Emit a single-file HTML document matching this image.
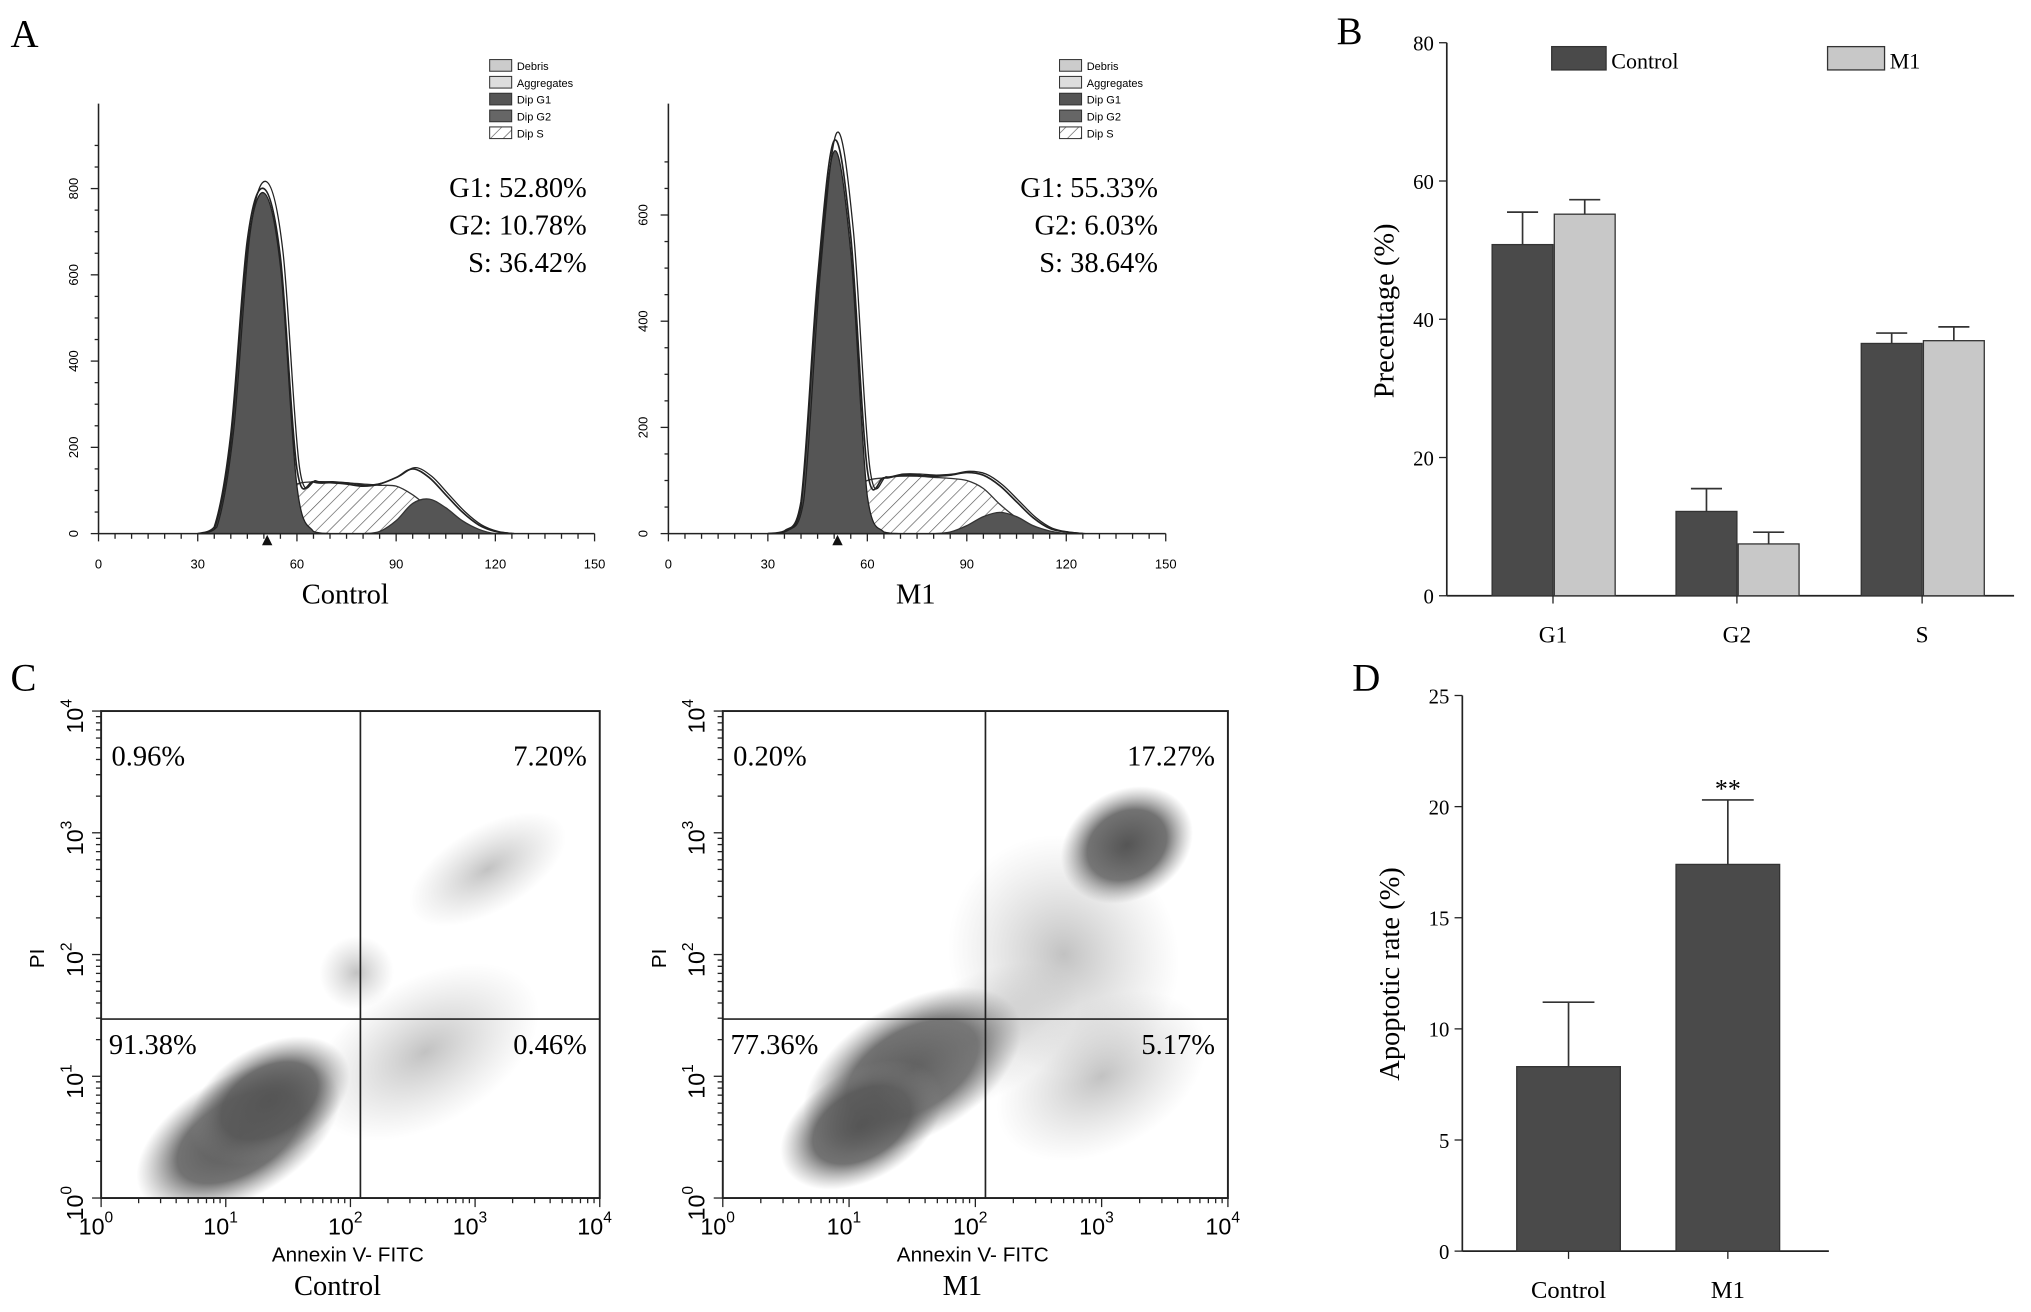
<!DOCTYPE html>
<html><head><meta charset="utf-8">
<style>
html,body{margin:0;padding:0;background:#fff;}
svg{display:block;}
.serif{font-family:"Liberation Serif",serif;}
.sans{font-family:"Liberation Sans",sans-serif;}
</style></head>
<body>
<svg id="fig" width="2031" height="1312" viewBox="0 0 1568 1013" xmlns="http://www.w3.org/2000/svg">
<defs>
<pattern id="hatch" width="7" height="7" patternUnits="userSpaceOnUse" patternTransform="rotate(45)">
<rect width="7" height="7" fill="#fff"/><line x1="0" y1="0" x2="0" y2="7" stroke="#555" stroke-width="1"/></pattern>
<radialGradient id="cloud"><stop offset="0" stop-color="#555" stop-opacity="1"/><stop offset="0.6" stop-color="#5a5a5a" stop-opacity="0.85"/><stop offset="1" stop-color="#888" stop-opacity="0"/></radialGradient>
<radialGradient id="sparse"><stop offset="0" stop-color="#777" stop-opacity="0.45"/><stop offset="1" stop-color="#999" stop-opacity="0"/></radialGradient>
</defs>
<text class="serif" x="8" y="36" font-size="30">A</text>
<text class="serif" x="1032" y="34" font-size="30">B</text>
<text class="serif" x="8" y="533" font-size="30">C</text>
<text class="serif" x="1044" y="533" font-size="30">D</text>
<g id="gA"></g><g id="gB"></g><g id="gC"></g><g id="gD"></g>
</svg>
<script>
const NS='http://www.w3.org/2000/svg';
function mk(parent,tag,attrs,text){const e=document.createElementNS(NS,tag);for(const k in attrs)e.setAttribute(k,attrs[k]);if(text!==undefined)e.textContent=text;parent.appendChild(e);return e;}

// ---------- Panel A data ----------
const histX=[30,35,40,45,50,55,60,65,70,75,80,85,90,95,100,105,110,115,120,125];
const ctrlTotal=[0,15,230,680,800,640,150,120,118,115,110,115,130,150,130,90,50,20,5,0];
const ctrlG1=[0,10,210,660,790,620,110,5,0,0,0,0,0,0,0,0,0,0,0,0];
const ctrlS=[0,0,0,20,50,90,115,120,120,118,115,112,110,90,60,35,15,5,0,0];
const ctrlG2=[0,0,0,0,0,0,0,0,0,0,0,5,30,70,80,60,30,10,0,0];
const m1Total=[0,5,60,480,740,560,120,105,110,110,108,110,115,110,90,60,30,10,3,0];
const m1G1=[0,3,50,460,720,530,70,3,0,0,0,0,0,0,0,0,0,0,0,0];
const m1S=[0,0,0,15,40,80,100,105,108,108,106,104,100,85,55,30,12,4,0,0];
const m1G2=[0,0,0,0,0,0,0,0,0,0,0,3,15,32,40,32,15,5,0,0];
const histXTicks=[0,30,60,90,120,150];
const ctrlYTicks=[0,200,400,600,800];
const m1YTicks=[0,200,400,600];
const legendItems=['Debris','Aggregates','Dip G1','Dip G2','Dip S'];

function smooth(p){let d='M'+p[0][0]+','+p[0][1];
  for(let i=0;i<p.length-1;i++){const a=p[Math.max(0,i-1)],b=p[i],c=p[i+1],e=p[Math.min(p.length-1,i+2)];
    const c1=[b[0]+(c[0]-a[0])/6,b[1]+(c[1]-a[1])/6],c2=[c[0]-(e[0]-b[0])/6,c[1]-(e[1]-b[1])/6];
    d+=` C${c1[0]},${Math.min(c1[1],412)} ${c2[0]},${Math.min(c2[1],412)} ${c[0]},${c[1]}`;}
  return d;}
function histPanel(g,x0,x1,yPer,yTicks,tot,g1,s,g2,stats,title,lx,nm){
  const y0=412;
  const X=v=>x0+(x1-x0)*v/150, Y=v=>y0-v*yPer;
  const P=(a,dx,k)=>a.map((v,i)=>[X(histX[i])+(dx||0),Y(v*(k||1))]);
  const area=a=>smooth(P(a))+' Z';
  let e=mk(g,'path',{d:area(s),fill:'url(#hatch)',stroke:'#333','stroke-width':1});
  
  e=mk(g,'path',{d:area(g2),fill:'#555',stroke:'#333','stroke-width':1});
  
  e=mk(g,'path',{d:area(g1),fill:'#555',stroke:'#222','stroke-width':1});
  
  e=mk(g,'path',{d:smooth(P(tot)),fill:'none',stroke:'#222','stroke-width':1.3});
  
  e=mk(g,'path',{d:smooth(P(tot,2,1.02)),fill:'none',stroke:'#222','stroke-width':1});
  
  e=mk(g,'line',{x1:x0,y1:80,x2:x0,y2:y0,stroke:'#222','stroke-width':1.2});
  
  e=mk(g,'line',{x1:x0,y1:y0,x2:x1,y2:y0,stroke:'#222','stroke-width':1.2});
  
  for(let v=0;v<=150;v+=5){mk(g,'line',{x1:X(v),y1:y0,x2:X(v),y2:y0+(v%30==0?6:4),stroke:'#222','stroke-width':1});}
  histXTicks.forEach(v=>{const t=mk(g,'text',{x:X(v),y:y0+27,'font-size':10,'text-anchor':'middle',class:'sans'},String(v));
    });
  for(let v=0;v<=yTicks[yTicks.length-1]+100;v+=50){if(Y(v)<82)break;mk(g,'line',{x1:x0-(v%200==0?6:3),y1:Y(v),x2:x0,y2:Y(v),stroke:'#222','stroke-width':1});}
  yTicks.forEach(v=>{const t=mk(g,'text',{x:x0-16,y:Y(v),'font-size':10,'text-anchor':'middle',class:'sans',transform:`rotate(-90 ${x0-16} ${Y(v)})`},String(v));
    });
  mk(g,'polygon',{points:`${X(51)-4},${y0+9} ${X(51)+4},${y0+9} ${X(51)},${y0+1}`,fill:'#111'});
  stats.forEach((s,i)=>{const t=mk(g,'text',{x:x1-6,y:152+i*29,'font-size':22,'text-anchor':'end',class:'serif'},s);
    });
  let t=mk(g,'text',{x:(x0+x1)/2-1,y:466,'font-size':22,'text-anchor':'middle',class:'serif'},title);
  
  const fills=['#ccc','#ddd','#555','#666','url(#hatch)'];
  legendItems.forEach((s,i)=>{const yy=46+i*13;
    mk(g,'rect',{x:lx,y:yy,width:17,height:9,fill:fills[i],stroke:'#333','stroke-width':0.8});
    const t=mk(g,'text',{x:lx+21,y:yy+8,'font-size':8.5,class:'sans'},s);
    });
}
const gA=document.getElementById('gA');
histPanel(gA,76,459,0.333,ctrlYTicks,ctrlTotal,ctrlG1,ctrlS,ctrlG2,['G1: 52.80%','G2: 10.78%','S: 36.42%'],'Control',378,'hist-control');
histPanel(gA,516,900,0.41,m1YTicks,m1Total,m1G1,m1S,m1G2,['G1: 55.33%','G2: 6.03%','S: 38.64%'],'M1',818,'hist-m1');

// ---------- Panel B data ----------
const bCats=['G1','G2','S'];
const bControl=[50.8,12.2,36.5];
const bControlErr=[4.7,3.3,1.5];
const bM1=[55.2,7.5,36.9];
const bM1Err=[2.1,1.7,2.0];
const bTicks=[0,20,40,60,80];
(function(){
  const g=document.getElementById('gB');const x0=1117,y0=460,ytop=33;
  const Y=v=>y0-(y0-ytop)*v/80;const cx=[1199,1341,1484];const bw=47;
  let e=mk(g,'line',{x1:x0,y1:ytop,x2:x0,y2:y0,stroke:'#222','stroke-width':1.3});
  
  e=mk(g,'line',{x1:x0,y1:y0,x2:1555,y2:y0,stroke:'#222','stroke-width':1.3});
  
  bTicks.forEach(v=>{mk(g,'line',{x1:x0-6,y1:Y(v),x2:x0,y2:Y(v),stroke:'#222'});
    const t=mk(g,'text',{x:x0-10,y:Y(v)+6,'font-size':16,'text-anchor':'end',class:'serif'},String(v));
    });
  bCats.forEach((c,i)=>{
    const series=[[bControl[i],bControlErr[i],'#4a4a4a',cx[i]-bw],[bM1[i],bM1Err[i],'#c8c8c8',cx[i]+1]];
    series.forEach((s,j)=>{
      const r=mk(g,'rect',{x:s[3],y:Y(s[0]),width:bw,height:y0-Y(s[0]),fill:s[2],stroke:'#333','stroke-width':1});
      
      const mx=s[3]+bw/2;
      mk(g,'line',{x1:mx,y1:Y(s[0]),x2:mx,y2:Y(s[0]+s[1]),stroke:'#333','stroke-width':1.3});
      mk(g,'line',{x1:mx-12,y1:Y(s[0]+s[1]),x2:mx+12,y2:Y(s[0]+s[1]),stroke:'#333','stroke-width':1.3});
    });
    mk(g,'line',{x1:cx[i],y1:y0,x2:cx[i],y2:y0+6,stroke:'#222'});
    const t=mk(g,'text',{x:cx[i],y:y0+36,'font-size':18,'text-anchor':'middle',class:'serif'},c);
    
  });
  let t=mk(g,'text',{x:1076,y:240,'font-size':22,'text-anchor':'middle',class:'serif',transform:'rotate(-90 1076 240)'},'Precentage (%)');
  
  mk(g,'rect',{x:1198,y:36,width:42,height:18,fill:'#4a4a4a',stroke:'#333'});
  t=mk(g,'text',{x:1244,y:53,'font-size':17,class:'serif'},'Control');
  mk(g,'rect',{x:1411,y:36,width:44,height:18,fill:'#c8c8c8',stroke:'#333'});
  t=mk(g,'text',{x:1459,y:53,'font-size':17,class:'serif'},'M1');
})();

// ---------- Panel C data (clusters in log10 units) ----------
const ctrlClusterX=[1.1,1.35,2.05,3.1,2.6];
const ctrlClusterY=[0.5,0.8,1.85,2.7,1.2];
const ctrlClusterRx=[0.9,0.7,0.3,0.7,1.0];
const ctrlClusterRy=[0.5,0.45,0.3,0.35,0.6];
const ctrlClusterDense=[1,1,0,0,0];
const m1ClusterX=[1.5,1.1,3.2,2.7,2.0,3.0];
const m1ClusterY=[1.05,0.6,2.9,2.0,1.3,1.0];
const m1ClusterRx=[0.95,0.7,0.55,0.9,0.9,0.9];
const m1ClusterRy=[0.55,0.45,0.45,1.0,0.5,0.6];
const m1ClusterDense=[1,1,1,0,0,0];
const logTicks=[0,1,2,3,4];
function scatterPanel(g,bx0,bx1,by0,by1,qx,qy,cxs,cys,rxs,rys,dense,pcts,title,nm){
  const X=v=>bx0+(bx1-bx0)*v/4, Y=v=>by1-(by1-by0)*v/4;
  const clip=mk(g,'clipPath',{id:'clip-'+nm});mk(clip,'rect',{x:bx0,y:by0,width:bx1-bx0,height:by1-by0});
  const cg=mk(g,'g',{'clip-path':`url(#clip-${nm})`});
  cxs.forEach((v,i)=>{const cx=X(v),cy=Y(cys[i]);
    const e=mk(cg,'ellipse',{cx:cx,cy:cy,rx:(bx1-bx0)*rxs[i]/4,ry:(by1-by0)*rys[i]/4,fill:dense[i]?'url(#cloud)':'url(#sparse)',transform:`rotate(-30 ${cx} ${cy})`});
    });
  let e=mk(g,'rect',{x:bx0,y:by0,width:bx1-bx0,height:by1-by0,fill:'none',stroke:'#222','stroke-width':1.5});
  
  e=mk(g,'line',{x1:X(qx),y1:by0,x2:X(qx),y2:by1,stroke:'#222','stroke-width':1.3});
  
  e=mk(g,'line',{x1:bx0,y1:Y(qy),x2:bx1,y2:Y(qy),stroke:'#222','stroke-width':1.3});
  
  logTicks.forEach(v=>{
    mk(g,'line',{x1:X(v),y1:by1,x2:X(v),y2:by1+7,stroke:'#222'});
    mk(g,'line',{x1:bx0-7,y1:Y(v),x2:bx0,y2:Y(v),stroke:'#222'});
    let t=mk(g,'text',{x:X(v)-4,y:by1+28,'font-size':18,'text-anchor':'middle',class:'sans'},'10');
    mk(t,'tspan',{dy:-9,'font-size':12},String(v));
    
    const ty=Y(v)+4, tx=bx0-14;
    t=mk(g,'text',{x:tx,y:ty,'font-size':18,'text-anchor':'middle',class:'sans',transform:`rotate(-90 ${tx} ${ty})`},'10');
    mk(t,'tspan',{dy:-9,'font-size':12},String(v));
    
    if(v<4)for(let k=2;k<10;k++){const lv=v+Math.log10(k);
      mk(g,'line',{x1:X(lv),y1:by1,x2:X(lv),y2:by1+4,stroke:'#222'});
      mk(g,'line',{x1:bx0-4,y1:Y(lv),x2:bx0,y2:Y(lv),stroke:'#222'});}
  });
  const pos=[[bx0+8,by0+42,'start'],[bx1-10,by0+42,'end'],[bx0+6,Y(qy)+27,'start'],[bx1-10,Y(qy)+27,'end']];
  pcts.forEach((p,i)=>{const t=mk(g,'text',{x:pos[i][0],y:pos[i][1],'font-size':22,'text-anchor':pos[i][2],class:'serif'},p);
    });
  let t=mk(g,'text',{x:(bx0+bx1)/2-2,y:974,'font-size':16,'text-anchor':'middle',class:'sans'},'Annexin V- FITC');
  
  t=mk(g,'text',{x:(bx0+bx1)/2-10,y:1000,'font-size':22,'text-anchor':'middle',class:'serif'},title);
  
  const px=bx0-44,py=740;
  t=mk(g,'text',{x:px,y:py,'font-size':16,'text-anchor':'middle',class:'sans',transform:`rotate(-90 ${px} ${py})`},'PI');
  
}
const gC=document.getElementById('gC');
scatterPanel(gC,78,463,549,925,2.08,1.47,ctrlClusterX,ctrlClusterY,ctrlClusterRx,ctrlClusterRy,ctrlClusterDense,['0.96%','7.20%','91.38%','0.46%'],'Control','scatter-control');
scatterPanel(gC,558,948,549,925,2.08,1.47,m1ClusterX,m1ClusterY,m1ClusterRx,m1ClusterRy,m1ClusterDense,['0.20%','17.27%','77.36%','5.17%'],'M1','scatter-m1');

// ---------- Panel D data ----------
const dCats=['Control','M1'];
const dValues=[8.3,17.4];
const dErr=[2.9,2.9];
const dTicks=[0,5,10,15,20,25];
(function(){
  const g=document.getElementById('gD');const x0=1129,y0=966,ytop=537;
  const Y=v=>y0-(y0-ytop)*v/25;const cx=[1211,1334];const bw=80;
  let e=mk(g,'line',{x1:x0,y1:ytop,x2:x0,y2:y0,stroke:'#222','stroke-width':1.3});
  
  e=mk(g,'line',{x1:x0,y1:y0,x2:1412,y2:y0,stroke:'#222','stroke-width':1.3});
  
  dTicks.forEach(v=>{mk(g,'line',{x1:x0-6,y1:Y(v),x2:x0,y2:Y(v),stroke:'#222'});
    const t=mk(g,'text',{x:x0-10,y:Y(v)+6,'font-size':16,'text-anchor':'end',class:'serif'},String(v));
    });
  dCats.forEach((c,i)=>{
    const r=mk(g,'rect',{x:cx[i]-bw/2,y:Y(dValues[i]),width:bw,height:y0-Y(dValues[i]),fill:'#4a4a4a',stroke:'#333'});
    
    const top=Y(dValues[i]+dErr[i]);
    mk(g,'line',{x1:cx[i],y1:Y(dValues[i]),x2:cx[i],y2:top,stroke:'#333','stroke-width':1.3});
    mk(g,'line',{x1:cx[i]-20,y1:top,x2:cx[i]+20,y2:top,stroke:'#333','stroke-width':1.3});
    mk(g,'line',{x1:cx[i],y1:y0,x2:cx[i],y2:y0+6,stroke:'#222'});
    const t=mk(g,'text',{x:cx[i],y:y0+36,'font-size':19,'text-anchor':'middle',class:'serif'},c);
    
  });
  let t=mk(g,'text',{x:cx[1],y:Y(dValues[1]+dErr[1])-2,'font-size':20,'text-anchor':'middle',class:'serif'},'**');
  
  t=mk(g,'text',{x:1080,y:752,'font-size':22,'text-anchor':'middle',class:'serif',transform:'rotate(-90 1080 752)'},'Apoptotic rate (%)');
  
})();
</script>
</body></html>
